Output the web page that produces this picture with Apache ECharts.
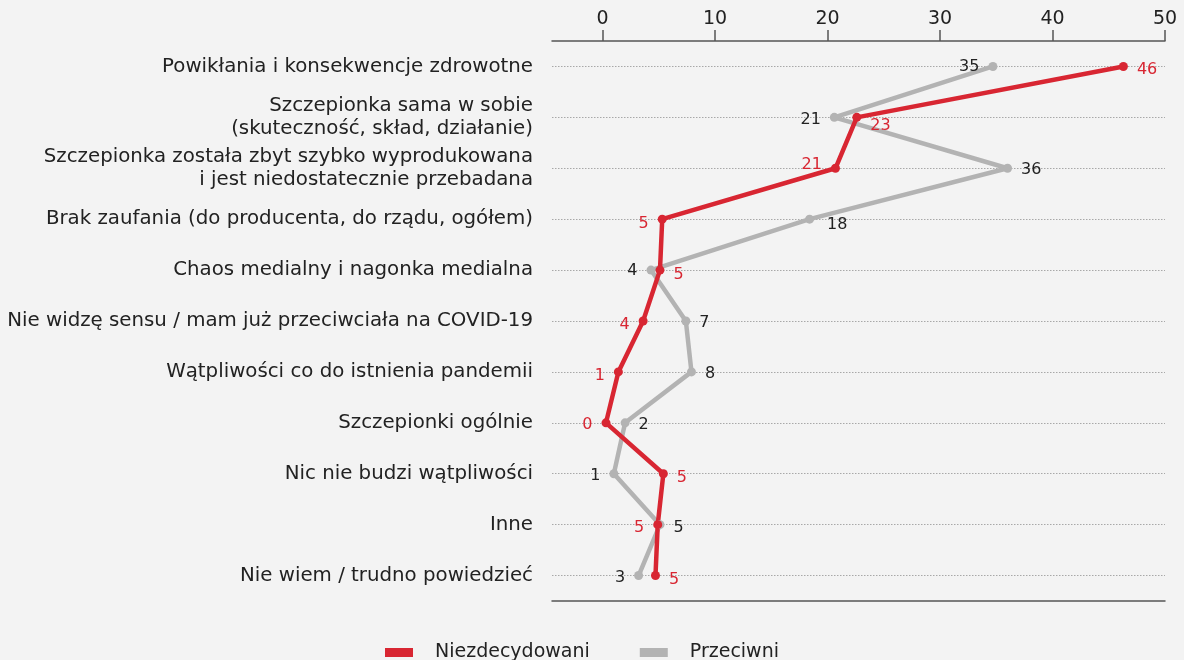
<!DOCTYPE html>
<html>
<head>
<meta charset="utf-8">
<script src="https://cdn.jsdelivr.net/npm/echarts@6/dist/echarts.min.js"></script>
<style>
html,body{margin:0;padding:0;background:#f3f3f3;}
#c{width:1184px;height:660px;}
</style>
</head>
<body>
<div id="c"></div>
<script>
const categories = [
  'Powikłania i konsekwencje zdrowotne',
  'Szczepionka sama w sobie\n(skuteczność, skład, działanie)',
  'Szczepionka została zbyt szybko wyprodukowana\ni jest niedostatecznie przebadana',
  'Brak zaufania (do producenta, do rządu, ogółem)',
  'Chaos medialny i nagonka medialna',
  'Nie widzę sensu / mam już przeciwciała na COVID-19',
  'Wątpliwości co do istnienia pandemii',
  'Szczepionki ogólnie',
  'Nic nie budzi wątpliwości',
  'Inne',
  'Nie wiem / trudno powiedzieć'
];
const niezdecydowani = [46.3, 22.6, 20.7, 5.3, 5.1, 3.6, 1.4, 0.3, 5.4, 4.9, 4.7];
const przeciwni = [34.7, 20.6, 36.0, 18.4, 4.3, 7.4, 7.9, 2.0, 1.0, 5.1, 3.2];
const xTicks = [0, 10, 20, 30, 40, 50];

// label placement per point: [position, dx, dy]
const redLabelPos = [['right',0,3],['right',0,8],['left',0,-3],['left',0,5],['right',0,5],['left',0,4],['left',0,4],['left',0,2],['right',0,4],['left',0,3],['right',0,4]];
const greyLabelPos = [['left',0,0],['left',0,2],['right',0,2],['right',4,6],['left',0,1],['right',0,2],['right',0,2],['right',0,2],['left',0,2],['right',0,3],['left',0,2]];

const RED = '#d82632', GREY = '#b3b3b3';
const font = 'DejaVu Sans';

function mkData(vals, pos, color) {
  return vals.map((v, i) => ({
    value: v,
    label: {
      position: pos[i][0],
      offset: [pos[i][1], pos[i][2]],
      color: color
    }
  }));
}

const chart = echarts.init(document.getElementById('c'));
chart.setOption({
  backgroundColor: '#f3f3f3',
  animation: false,
  grid: { left: 552, right: 19, top: 41, bottom: 59 },
  xAxis: [{
    type: 'value', position: 'top', min: -4.5, max: 50,
    axisLine: { show: true, lineStyle: { color: '#555', width: 1.5 } },
    axisTick: { show: true, customValues: xTicks, length: 11, lineStyle: { color: '#555', width: 1.5 } },
    axisLabel: { customValues: xTicks, fontFamily: font, fontSize: 19, color: '#222', margin: 12 },
    splitLine: { show: false }
  }, {
    type: 'value', position: 'bottom', min: -4.5, max: 50,
    axisLine: { show: true, lineStyle: { color: '#555', width: 1.5 } },
    axisTick: { show: false }, axisLabel: { show: false }, splitLine: { show: false }
  }],
  yAxis: {
    type: 'category', inverse: true, data: categories,
    axisLine: { show: false, onZero: false },
    axisTick: { show: true, alignWithLabel: true, inside: true, length: 613,
      lineStyle: { color: '#a8a8a8', type: [1.5, 1.5], width: 1 } },
    axisLabel: { fontFamily: font, fontSize: 19.8, color: '#222', margin: 19, lineHeight: 23 },
    splitLine: { show: false }
  },
  legend: {
    data: ['Niezdecydowani', 'Przeciwni'],
    left: 380, top: 638,
    icon: 'rect', itemWidth: 28, itemHeight: 9, itemGap: 50,
    textStyle: { fontFamily: font, fontSize: 19, color: '#222', padding: [0, 0, 0, 17] }
  },
  series: [{
    name: 'Przeciwni', type: 'line', data: mkData(przeciwni, greyLabelPos, '#222'),
    xAxisIndex: 0,
    symbol: 'circle', symbolSize: 9,
    lineStyle: { color: GREY, width: 4.5 },
    itemStyle: { color: GREY },
    label: { show: true, fontFamily: font, fontSize: 16, distance: 9,
      formatter: p => Math.round(p.value) }
  }, {
    name: 'Niezdecydowani', type: 'line', data: mkData(niezdecydowani, redLabelPos, RED),
    xAxisIndex: 0,
    symbol: 'circle', symbolSize: 9,
    lineStyle: { color: RED, width: 4.5 },
    itemStyle: { color: RED },
    label: { show: true, fontFamily: font, fontSize: 16, distance: 9,
      formatter: p => Math.round(p.value) }
  }]
});
</script>
</body>
</html>
